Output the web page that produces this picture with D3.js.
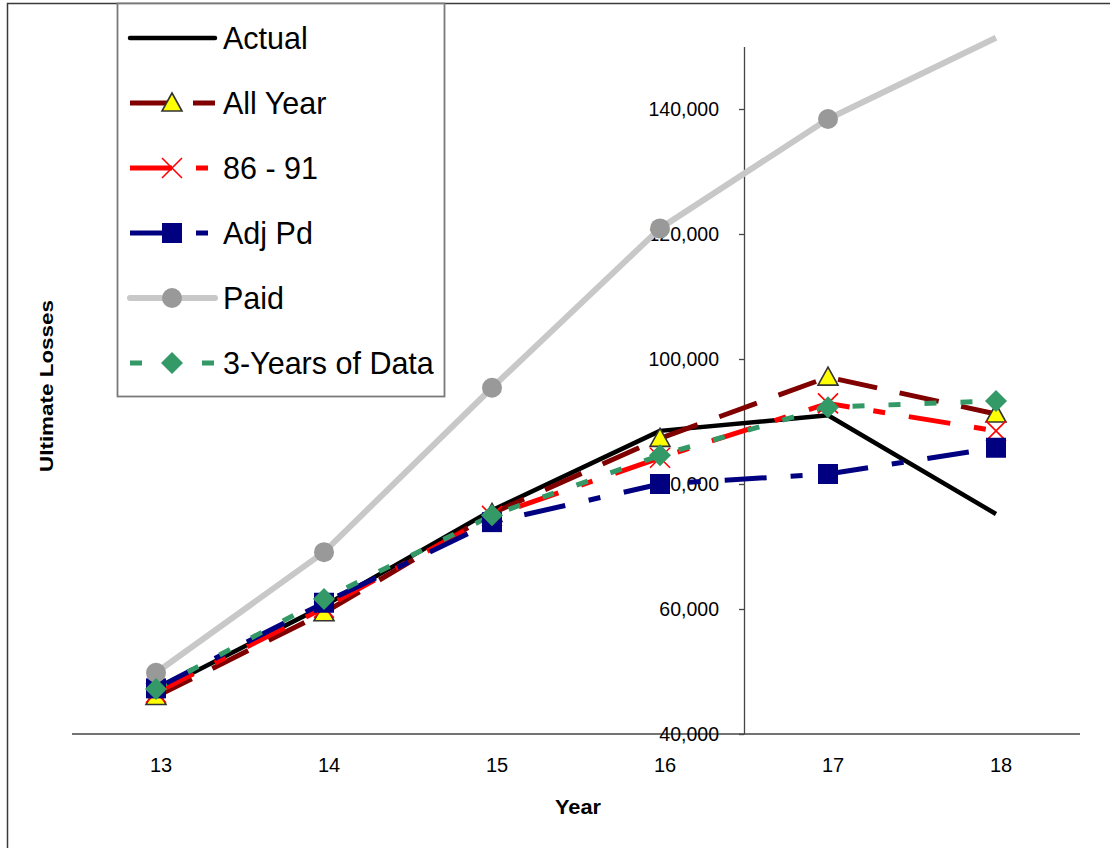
<!DOCTYPE html>
<html>
<head>
<meta charset="utf-8">
<script src="https://cdn.jsdelivr.net/npm/d3@7"></script>
<style>
  html, body { margin: 0; padding: 0; background: #fff; }
  svg { display: block; font-family: "Liberation Sans", Arial, sans-serif; }
</style>
</head>
<body>
<svg id="chart" width="1110" height="848"></svg>
<script>
// Accident years on the category axis
const years = ["13", "14", "15", "16", "17", "18"];

// Ultimate loss estimates per method
const actual     = [46800, 60500, 75800, 88500, 91000, 75200];
const allYear    = [46000, 59400, 75300, 87300, 97100, 91200];
const yrs8691    = [46600, 60200, 74900, 84200, 92900, 88500];
const adjPd      = [47300, 61000, 73900, 80000, 81600, 85800];
const paid       = [49800, 69100, 95400, 120900, 138400, 151400];
const threeYears = [47200, 61600, 75000, 84600, 92300, 93300];

const seriesNames = ["Actual", "All Year", "86 - 91", "Adj Pd", "Paid", "3-Years of Data"];
const yTicks = [40000, 60000, 80000, 100000, 120000, 140000];

const series = [
  { name: seriesNames[0], values: actual,     color: "#000000", width: 4.5, dash: null,          marker: null },
  { name: seriesNames[1], values: allYear,    color: "#800000", width: 5,   dash: "40,23",       marker: "triangle" },
  { name: seriesNames[2], values: yrs8691,    color: "#ff0000", width: 5,   dash: "42,24,12,24", marker: "cross" },
  { name: seriesNames[3], values: adjPd,      color: "#000080", width: 5,   dash: "42,24,12,24", marker: "square" },
  { name: seriesNames[4], values: paid,       color: "#c8c8c8", width: 6,   dash: null,          marker: "circle" },
  { name: seriesNames[5], values: threeYears, color: "#339966", width: 5,   dash: "12,24",       marker: "diamond" }
];

const svg = d3.select("#chart");

// outer chart frame
svg.append("rect")
  .attr("x", 7.5).attr("y", 3.5)
  .attr("width", 1300).attr("height", 1000)
  .attr("fill", "#fff").attr("stroke", "#3a3a3a").attr("stroke-width", 1.5);

const x = d3.scaleBand().domain(years).range([72, 1080]).padding(0);
const y = d3.scaleLinear().domain([40000, 150000]).range([734, 46.5]);
const cx = d => x(d) + x.bandwidth() / 2;

// category axis
const xAxisG = svg.append("g").attr("transform", `translate(0,${y(40000)})`);
xAxisG.append("line")
  .attr("x1", x.range()[0]).attr("x2", x.range()[1])
  .attr("stroke", "#444").attr("stroke-width", 1.3);
const boundaries = years.map(d => x(d)).concat([x.range()[1]]);
xAxisG.selectAll("line.tick").data(boundaries).join("line")
  .attr("class", "tick")
  .attr("x1", d => d).attr("x2", d => d)
  .attr("y1", 0).attr("y2", 6)
  .attr("stroke", "#444").attr("stroke-width", 1.3);
xAxisG.call(d3.axisBottom(x).tickSize(0).tickPadding(24))
  .call(g => g.select(".domain").remove())
  .call(g => g.selectAll("text")
    .attr("font-size", 20).attr("fill", "#000")
    .attr("font-family", "Liberation Sans, Arial, sans-serif")
    .attr("dx", 5));

// value axis, crossing between 16 and 17
const yAxisX = x("17");
const yAxisG = svg.append("g").attr("transform", `translate(${yAxisX},0)`);
yAxisG.call(d3.axisLeft(y).tickValues(yTicks).tickFormat(d3.format(",")).tickSizeInner(5).tickSizeOuter(0).tickPadding(20))
  .call(g => g.select(".domain").attr("stroke", "#444").attr("stroke-width", 1.3))
  .call(g => g.selectAll(".tick line").attr("stroke", "#444").attr("stroke-width", 1.3))
  .call(g => g.selectAll("text")
    .attr("font-size", 19.5).attr("fill", "#000")
    .attr("font-family", "Liberation Sans, Arial, sans-serif"));

// axis titles
svg.append("text")
  .attr("x", 578).attr("y", 814)
  .attr("text-anchor", "middle")
  .attr("font-size", 20).attr("font-weight", "bold")
  .attr("textLength", 46).attr("lengthAdjust", "spacingAndGlyphs")
  .text("Year");
svg.append("text")
  .attr("transform", "translate(53,386) rotate(-90)")
  .attr("text-anchor", "middle")
  .attr("font-size", 19).attr("font-weight", "bold")
  .attr("textLength", 172).attr("lengthAdjust", "spacingAndGlyphs")
  .text("Ultimate Losses");

// marker shapes
function drawMarker(g, type, px, py) {
  if (type === "triangle") {
    g.append("path")
      .attr("d", `M${px},${py - 10} L${px + 10},${py + 8} L${px - 10},${py + 8} Z`)
      .attr("fill", "#ffff00").attr("stroke", "#333").attr("stroke-width", 1.6)
      .attr("stroke-linejoin", "miter");
  } else if (type === "cross") {
    g.append("path")
      .attr("d", `M${px - 10},${py - 10} L${px + 10},${py + 10} M${px - 10},${py + 10} L${px + 10},${py - 10}`)
      .attr("stroke", "#ff0000").attr("stroke-width", 1.6).attr("fill", "none");
  } else if (type === "square") {
    g.append("rect")
      .attr("x", px - 10).attr("y", py - 10).attr("width", 20).attr("height", 20)
      .attr("fill", "#000080");
  } else if (type === "circle") {
    g.append("circle")
      .attr("cx", px).attr("cy", py).attr("r", 10)
      .attr("fill", "#999999");
  } else if (type === "diamond") {
    g.append("path")
      .attr("d", `M${px},${py - 11} L${px + 11},${py} L${px},${py + 11} L${px - 11},${py} Z`)
      .attr("fill", "#339966");
  }
}

const line = d3.line().x((d, i) => cx(years[i])).y(d => y(d));

// series lines, drawn in legend order
const linesG = svg.append("g");
series.forEach(s => {
  linesG.append("path")
    .datum(s.values)
    .attr("d", line)
    .attr("fill", "none")
    .attr("stroke", s.color)
    .attr("stroke-width", s.width)
    .attr("stroke-dasharray", s.dash)
    .attr("stroke-linejoin", "round");
});

// markers on top of the lines; points past the axis maximum are not marked
const markersG = svg.append("g");
series.forEach(s => {
  if (!s.marker) return;
  s.values.forEach((v, i) => {
    if (v > y.domain()[1]) return;
    drawMarker(markersG, s.marker, cx(years[i]), y(v));
  });
});

// legend
const legend = svg.append("g");
legend.append("rect")
  .attr("x", 117.5).attr("y", 3.5).attr("width", 327).attr("height", 393)
  .attr("fill", "#fff").attr("stroke", "#7a7a7a").attr("stroke-width", 1.8);
series.forEach((s, i) => {
  const ly = 38 + i * 65;
  const row = legend.append("g");
  row.append("line")
    .attr("x1", 130).attr("x2", 215).attr("y1", ly).attr("y2", ly)
    .attr("stroke", s.color).attr("stroke-width", s.width)
    .attr("stroke-dasharray", s.dash)
    .attr("stroke-linecap", s.dash ? "butt" : "round");
  if (s.marker) drawMarker(row, s.marker, 172, ly);
  row.append("text")
    .attr("x", 223).attr("y", ly)
    .attr("dy", "0.35em")
    .attr("font-size", 30.5)
    .attr("fill", "#000")
    .text(s.name);
});
</script>
</body>
</html>
